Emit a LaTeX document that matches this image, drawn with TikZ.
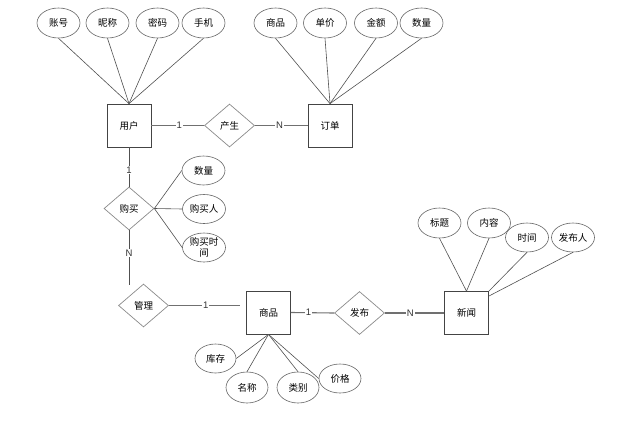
\documentclass[tikz,border=0pt]{standalone}
\usepackage{fontspec}
\setmainfont{Noto Sans CJK SC}
\newfontfamily\latinfont{Liberation Sans}
\usetikzlibrary{shapes.geometric,calc}
\definecolor{boxc}{HTML}{444444}
\definecolor{ellc}{HTML}{666666}
\definecolor{diac}{HTML}{8A8A8A}
\definecolor{attrline}{HTML}{505050}
\definecolor{relline}{HTML}{707070}
\definecolor{labc}{HTML}{333333}
\tikzset{
  entity/.style={draw=boxc, line width=0.8pt, minimum width=44pt, minimum height=43pt, inner sep=0pt, font=\fontsize{9.5}{11}\selectfont, text=black},
  attr/.style={draw=ellc, line width=0.6pt, ellipse, minimum width=43pt, minimum height=30pt, inner sep=0pt, font=\fontsize{9.5}{11}\selectfont, text=black, align=center},
  rel/.style={draw=diac, line width=0.7pt, diamond, aspect=1.15, minimum width=50pt, minimum height=43pt, inner sep=0pt, font=\fontsize{9.5}{11}\selectfont, text=black},
  aline/.style={draw=attrline, line width=0.6pt},
  rline/.style={draw=relline, line width=1.1pt},
  card/.style={fill=white, inner sep=0.8pt, text=labc, font=\latinfont\fontsize{9.5}{11}\selectfont}
}
\begin{document}
\begin{tikzpicture}[x=1pt,y=-1pt]
\path[use as bounding box] (0,0) rectangle (628,425);
% entities
\node[entity] (user) at (129,125.5) {用户};
\node[entity] (order) at (330,125.5) {订单};
\node[entity] (goods) at (268.5,312.5) {商品};
\node[entity] (news) at (466.5,313) {新闻};
% relationships
\node[rel] (gen) at (229.5,125.5) {产生};
\node[rel] (buy) at (129,208.5) {购买};
\node[rel] (mgr) at (143.5,305.5) {管理};
\node[rel] (pub) at (359.5,313) {发布};
% user attributes
\node[attr] (u1) at (58.5,23) {账号};
\node[attr] (u2) at (107.5,23) {昵称};
\node[attr] (u3) at (157.5,23) {密码};
\node[attr] (u4) at (203.5,23) {手机};
% order attributes
\node[attr] (o1) at (275.5,23) {商品};
\node[attr] (o2) at (325,23) {单价};
\node[attr] (o3) at (376,23) {金额};
\node[attr] (o4) at (421.5,23) {数量};
% buy attributes
\node[attr, minimum height=29pt] (b1) at (203.5,170.5) {数量};
\node[attr, minimum height=29pt] (b2) at (204,209) {购买人};
\node[attr, minimum height=29pt] (b3) at (204,247.5) {购买时\\间};
% news attributes
\node[attr] (n1) at (439.5,223) {标题};
\node[attr] (n2) at (489,223) {内容};
\node[attr, minimum height=29pt] (n3) at (527,237.5) {时间};
\node[attr, minimum height=29pt] (n4) at (573,237.5) {发布人};
% goods attributes
\node[attr, minimum width=41pt, minimum height=29pt] (g1) at (215.5,358.5) {库存};
\node[attr, minimum width=42pt, minimum height=31pt] (g2) at (247,387.5) {名称};
\node[attr, minimum width=42pt, minimum height=31pt] (g3) at (298,387.5) {类别};
\node[attr, minimum width=42pt, minimum height=29pt] (g4) at (340,378.5) {价格};
% free ends
\coordinate (buyend) at (129,285);
\coordinate (mgrend) at (240,305.5);
\coordinate (newsne2) at (489,296);
% attribute lines
\foreach \a in {u1,u2,u3,u4} \draw[aline] (\a.south) -- (user.north);
\foreach \a in {o1,o2,o3,o4} \draw[aline] (\a.south) -- (order.north);
\foreach \a in {b1,b2,b3} \draw[aline] (buy.east) -- (\a.west);
\draw[aline] (n1.south) -- (news.north);
\draw[aline] (n2.south) -- (news.north);
\draw[aline] (n3.south) -- (news.north east);
\draw[aline] (n4.south) -- (newsne2);
\draw[aline] (goods.south) -- (g1.east);
\draw[aline] (goods.south) -- (g2.north);
\draw[aline] (goods.south) -- (g3.north);
\draw[aline] (goods.south) -- (g4.west);
% relationship lines
\draw[rline] (user.east) -- node[card, pos=0.53] (c1) {1} (gen.west);
\draw[rline] (gen.east) -- node[card, pos=0.47] (c2) {N} (order.west);
\draw[aline, line width=0.8pt] (user.south) -- node[card, pos=0.58] (c3) {1} (buy.north);
\draw[aline, line width=0.8pt] (buy.south) -- node[card, pos=0.42] (c4) {N} (buyend);
\draw[rline] (mgr.east) -- node[card, pos=0.52] (c5) {1} (mgrend);
\draw[rline] (goods.east) -- node[card, pos=0.41] (c6) {1} (pub.west);
\draw[rline] (pub.east) -- node[card, pos=0.43] (c7) {N} (news.west);
\end{tikzpicture}
\end{document}
